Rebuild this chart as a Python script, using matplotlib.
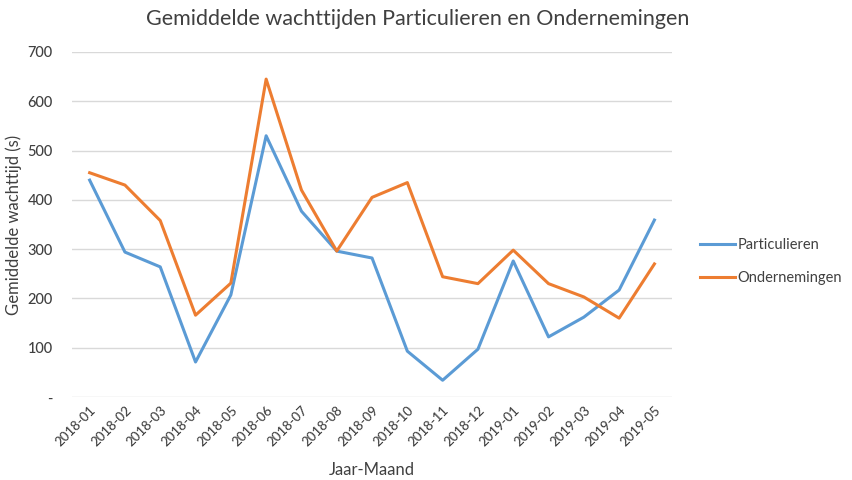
import matplotlib
matplotlib.use("Agg")
import matplotlib.pyplot as plt
from matplotlib.ticker import FixedLocator, FixedFormatter

months = ["2018-01", "2018-02", "2018-03", "2018-04", "2018-05", "2018-06",
          "2018-07", "2018-08", "2018-09", "2018-10", "2018-11", "2018-12",
          "2019-01", "2019-02", "2019-03", "2019-04", "2019-05"]
particulieren = [440, 294, 264, 71, 207, 530, 377, 296, 282, 93, 34, 97,
                 276, 122, 162, 217, 359]
ondernemingen = [455, 430, 358, 166, 231, 645, 420, 296, 405, 435, 244, 230,
                 298, 230, 203, 160, 270]
yticks = [0, 100, 200, 300, 400, 500, 600, 700]
ytick_labels = ["-", "100", "200", "300", "400", "500", "600", "700"]

plt.rcParams['font.family'] = ['Lato', 'DejaVu Sans']
txt = "#404040"

fig = plt.figure(figsize=(8.53, 4.8), dpi=100)
ax = fig.add_axes([0.0844, 0.1729, 0.7035, 0.7188])

x = list(range(len(months)))
ax.plot(x, particulieren, color="#5B9BD5", lw=2.2, label="Particulieren")
ax.plot(x, ondernemingen, color="#ED7D31", lw=2.2, label="Ondernemingen")

ax.set_xlim(-0.5, len(months) - 0.5)
ax.set_ylim(0, 700)
ax.yaxis.set_major_locator(FixedLocator(yticks))
ax.yaxis.set_major_formatter(FixedFormatter(ytick_labels))
ax.set_xticks(x)
ax.set_xticklabels(months, rotation=45, ha="right", rotation_mode="anchor",
                   fontsize=9.5, color=txt, fontweight="medium")
for lbl in ax.get_yticklabels():
    lbl.set_fontweight("medium")
ax.tick_params(axis="y", labelsize=10.5, labelcolor=txt, length=0, pad=14)
ax.tick_params(axis="x", length=0, pad=5)
ax.grid(axis="y", color="#D9D9D9", lw=1)
ax.set_axisbelow(True)
for s in ax.spines.values():
    s.set_visible(False)

ax.set_ylabel("Gemiddelde wachttijd (s)", fontsize=12, color=txt, labelpad=4)
ax.set_xlabel("Jaar-Maand", fontsize=12, color=txt, labelpad=10)
fig.text(0.49, 0.96, "Gemiddelde wachttijden Particulieren en Ondernemingen",
         ha="center", va="center", fontsize=15.5, color=txt)

fig.legend(loc="center left", bbox_to_anchor=(0.805, 0.455), frameon=False,
           fontsize=10.5, labelcolor=txt, handlelength=2.4, handletextpad=0.2,
           labelspacing=1.3)

fig.savefig("out.png", dpi=100)
